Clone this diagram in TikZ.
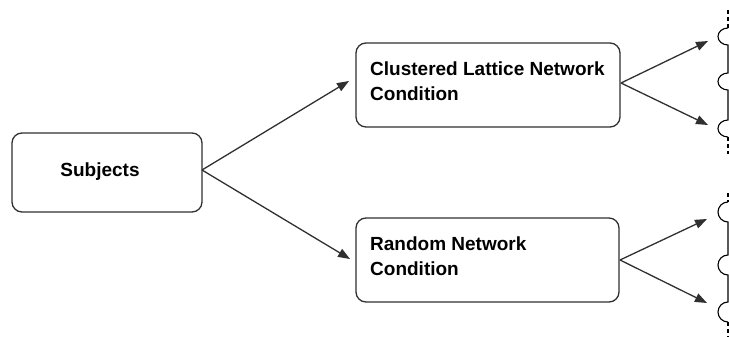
\documentclass[tikz,border=0pt]{standalone}
\usepackage{fontspec}
\setmainfont{Liberation Sans}
\usetikzlibrary{arrows.meta}
\definecolor{edge}{HTML}{303030}
\tikzset{
  box/.style={draw=edge, line width=1.3pt, rounded corners=10pt, fill=white, inner sep=0pt},
  lbl/.style={inner sep=0pt, align=left, font=\bfseries\fontsize{19pt}{25.5pt}\selectfont, text=black},
  arr/.style={draw=edge, line width=1.3pt, -{Triangle[length=12pt,width=9pt]}},
  side/.style={draw=black, line width=1.1pt},
  sidedash/.style={draw=black, line width=1.1pt, dash pattern=on 4pt off 3pt}
}
\begin{document}
\begin{tikzpicture}[x=1pt,y=-1pt]
\useasboundingbox (0,0) rectangle (729,337);
% boxes
\node[box, minimum width=190pt, minimum height=79pt] (subj) at (107,172.5) {};
\node[lbl, anchor=center] (subjt) at (100,172) {Subjects};
\node[box, minimum width=264pt, minimum height=84pt] (cl) at (488,85) {};
\node[lbl, anchor=north west] (clt) at (370,61.5) {Clustered Lattice Network\\Condition};
\node[box, minimum width=263pt, minimum height=84pt] (rn) at (487.5,260) {};
\node[lbl, anchor=north west] (rnt) at (370,236.5) {Random Network\\Condition};
% end coordinates
\coordinate (s0) at (202,170);
\coordinate (t1) at (349,81);
\coordinate (t2) at (350,259);
\coordinate (c0) at (621,83);
\coordinate (c1) at (708,41);
\coordinate (c2) at (708,125);
\coordinate (r0) at (620,260);
\coordinate (r1) at (707,219);
\coordinate (r2) at (707,303);
% arrows
\draw[arr] (s0) -- (t1);
\draw[arr] (s0) -- (t2);
\draw[arr] (c0) -- (c1);
\draw[arr] (c0) -- (c2);
\draw[arr] (r0) -- (r1);
\draw[arr] (r0) -- (r2);
% right side cut edges (top group)
\draw[sidedash] (728,10) -- (728,28);
\draw[side] (728,28) arc[start angle=90, end angle=270, x radius=10pt, y radius=8.5pt]
  -- (728,73) arc[start angle=90, end angle=270, x radius=10pt, y radius=8.5pt]
  -- (728,120) arc[start angle=90, end angle=270, x radius=10pt, y radius=8.5pt];
\draw[sidedash] (728,137) -- (728,154);
% right side cut edges (bottom group)
\draw[sidedash] (728,193) -- (728,202);
\draw[side] (728,202) arc[start angle=90, end angle=270, x radius=10pt, y radius=10pt]
  -- (728,255) arc[start angle=90, end angle=270, x radius=10pt, y radius=10pt]
  -- (728,302) arc[start angle=90, end angle=270, x radius=10pt, y radius=10pt];
\draw[sidedash] (728,322) -- (728,337);
\end{tikzpicture}
\end{document}
